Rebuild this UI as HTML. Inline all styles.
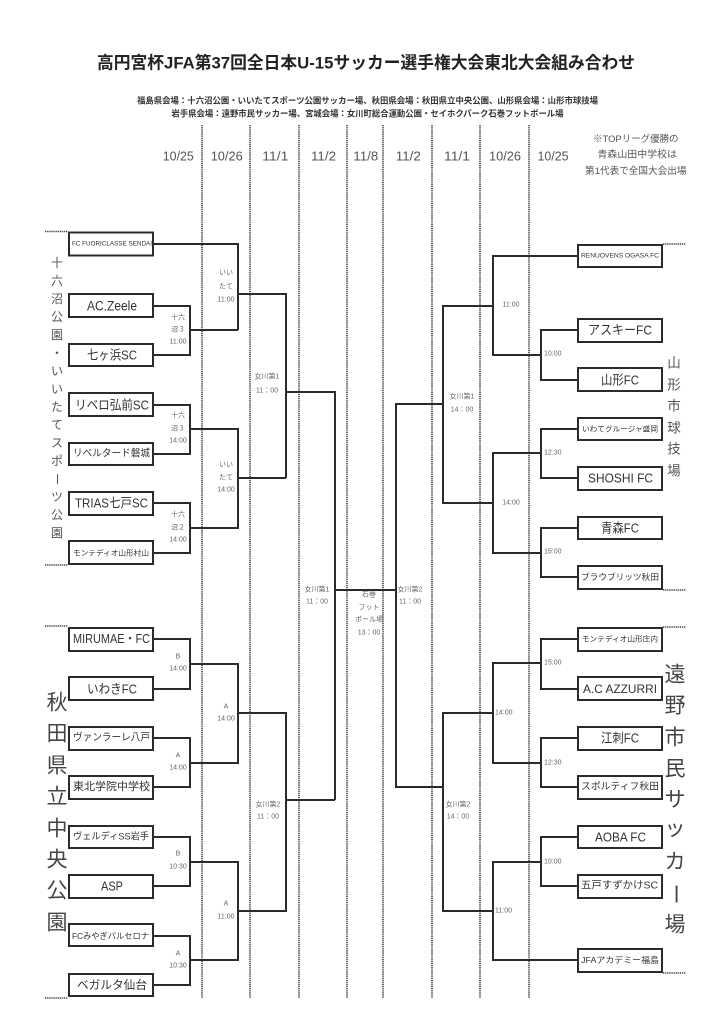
<!DOCTYPE html>
<html>
<head>
<meta charset="utf-8">
<style>
html,body{margin:0;padding:0;background:#fff;}
body{width:719px;height:1024px;overflow:hidden;}
svg{display:block;}
text{font-family:"Liberation Sans","Noto Sans CJK JP",sans-serif;}
.t{fill:#333;dominant-baseline:central;}
.lb{fill:#666;font-size:7px;text-anchor:middle;dominant-baseline:central;}
.ls{fill:#666;font-size:7px;dominant-baseline:central;}
.dt{fill:#555;font-size:13px;text-anchor:middle;dominant-baseline:central;}
.v{text-anchor:middle;dominant-baseline:central;}
</style>
</head>
<body>
<svg width="719" height="1024" viewBox="0 0 719 1024" xmlns="http://www.w3.org/2000/svg">
<rect width="719" height="1024" fill="#fff"/>

<!-- Title -->
<text x="97" y="63" font-size="17" font-weight="bold" fill="#222" dominant-baseline="central" textLength="538" lengthAdjust="spacingAndGlyphs">高円宮杯JFA第37回全日本U-15サッカー選手権大会東北大会組み合わせ</text>
<text x="137" y="100.5" font-size="8.5" font-weight="bold" fill="#333" dominant-baseline="central" textLength="461" lengthAdjust="spacingAndGlyphs">福島県会場：十六沼公園・いいたてスポーツ公園サッカー場、秋田県会場：秋田県立中央公園、山形県会場：山形市球技場</text>
<text x="171.5" y="113.3" font-size="8.5" font-weight="bold" fill="#333" dominant-baseline="central" textLength="392" lengthAdjust="spacingAndGlyphs">岩手県会場：遠野市民サッカー場、宮城会場：女川町総合運動公園・セイホクパーク石巻フットボール場</text>

<!-- note -->
<text x="593" y="139.3" font-size="9.5" fill="#555" dominant-baseline="central" textLength="85.5" lengthAdjust="spacingAndGlyphs">※TOPリーグ優勝の</text>
<text x="597.5" y="155" font-size="9.5" fill="#555" dominant-baseline="central" textLength="79.5" lengthAdjust="spacingAndGlyphs">青森山田中学校は</text>
<text x="585" y="171.7" font-size="9.5" fill="#555" dominant-baseline="central" textLength="101.5" lengthAdjust="spacingAndGlyphs">第1代表で全国大会出場</text>

<!-- dates -->
<g class="dt">
<text x="178.3" y="156" textLength="31" lengthAdjust="spacingAndGlyphs">10/25</text>
<text x="226.7" y="156" textLength="32" lengthAdjust="spacingAndGlyphs">10/26</text>
<text x="275.3" y="156" textLength="26" lengthAdjust="spacingAndGlyphs">11/1</text>
<text x="323.5" y="156" textLength="25" lengthAdjust="spacingAndGlyphs">11/2</text>
<text x="365.8" y="156" textLength="25" lengthAdjust="spacingAndGlyphs">11/8</text>
<text x="408.3" y="156" textLength="25" lengthAdjust="spacingAndGlyphs">11/2</text>
<text x="457" y="156" textLength="26" lengthAdjust="spacingAndGlyphs">11/1</text>
<text x="505" y="156" textLength="32" lengthAdjust="spacingAndGlyphs">10/26</text>
<text x="553" y="156" textLength="31" lengthAdjust="spacingAndGlyphs">10/25</text>
</g>

<!-- dividers -->
<g stroke="#444" stroke-width="1.6" stroke-dasharray="1.3 0.8" fill="none">
<line x1="202" y1="125" x2="202" y2="998"/>
<line x1="250" y1="125" x2="250" y2="998"/>
<line x1="299" y1="125" x2="299" y2="998"/>
<line x1="347" y1="125" x2="347" y2="998"/>
<line x1="383" y1="125" x2="383" y2="998"/>
<line x1="432" y1="125" x2="432" y2="998"/>
<line x1="480" y1="125" x2="480" y2="998"/>
<line x1="529" y1="125" x2="529" y2="998"/>
<!-- group markers -->
<line x1="45" y1="231.5" x2="68" y2="231.5"/>
<line x1="45" y1="565" x2="68" y2="565"/>
<line x1="45" y1="626" x2="68" y2="626"/>
<line x1="45" y1="998" x2="68" y2="998"/>
<line x1="663" y1="244" x2="686" y2="244"/>
<line x1="663" y1="590" x2="686" y2="590"/>
<line x1="663" y1="627" x2="686" y2="627"/>
<line x1="663" y1="973" x2="686" y2="973"/>
</g>

<!-- bracket lines -->
<g stroke="#2b2b2b" stroke-width="2" fill="none" stroke-linejoin="miter">
<!-- left top -->
<path d="M154 244 H238 V330"/>
<path d="M154 306 H190 V355 H154"/>
<path d="M190 330 H238"/>
<path d="M238 294 H286 V478"/>
<path d="M154 405 H190 V454 H154"/>
<path d="M190 429 H238 V528 H190"/>
<path d="M154 503 H190 V553 H154"/>
<path d="M238 478 H286"/>
<path d="M286 392 H335 V800"/>
<path d="M335 590 H396"/>
<!-- left bottom -->
<path d="M154 639 H190 V689 H154"/>
<path d="M190 664 H238 V763 H190"/>
<path d="M154 738 H190 V787 H154"/>
<path d="M238 713 H286 V911 H238"/>
<path d="M154 837 H190 V886 H154"/>
<path d="M190 862 H238 V960 H190"/>
<path d="M154 936 H190 V985 H154"/>
<path d="M286 800 H335"/>
<!-- right top -->
<path d="M577 256 H493 V355 H541"/>
<path d="M577 330 H541 V380 H577"/>
<path d="M493 306 H443 V503 H493"/>
<path d="M577 429 H541 V478 H577"/>
<path d="M541 453 H493 V553 H541"/>
<path d="M577 528 H541 V577 H577"/>
<path d="M443 404 H396 V787 H443"/>
<!-- right bottom -->
<path d="M577 639 H541 V689 H577"/>
<path d="M541 663 H493 V763 H541"/>
<path d="M577 738 H541 V787 H577"/>
<path d="M493 713 H443 V911 H493"/>
<path d="M577 837 H541 V886 H577"/>
<path d="M541 862 H493 V960 H577"/>
</g>

<!-- boxes -->
<g stroke="#2b2b2b" stroke-width="2" fill="#fff">
<rect x="69" y="232.5" width="84" height="23"/>
<rect x="69" y="294" width="84" height="23"/>
<rect x="69" y="344" width="84" height="22"/>
<rect x="69" y="393" width="84" height="23"/>
<rect x="69" y="443" width="84" height="22"/>
<rect x="69" y="492" width="84" height="23"/>
<rect x="69" y="541" width="84" height="23"/>
<rect x="69" y="628" width="84" height="23"/>
<rect x="69" y="677" width="84" height="23"/>
<rect x="69" y="727" width="84" height="23"/>
<rect x="69" y="776" width="84" height="23"/>
<rect x="69" y="826" width="84" height="22"/>
<rect x="69" y="875" width="84" height="23"/>
<rect x="69" y="924" width="84" height="22"/>
<rect x="69" y="974" width="84" height="22"/>

<rect x="578" y="245" width="84" height="22"/>
<rect x="578" y="319" width="84" height="23"/>
<rect x="578" y="368" width="84" height="23"/>
<rect x="578" y="418" width="84" height="22"/>
<rect x="578" y="467" width="84" height="23"/>
<rect x="578" y="517" width="84" height="22"/>
<rect x="578" y="566" width="84" height="23"/>
<rect x="578" y="628" width="84" height="23"/>
<rect x="578" y="677" width="84" height="23"/>
<rect x="578" y="727" width="84" height="23"/>
<rect x="578" y="776" width="84" height="23"/>
<rect x="578" y="826" width="84" height="22"/>
<rect x="578" y="875" width="84" height="23"/>
<rect x="578" y="949" width="84" height="23"/>
</g>

<!-- team names left -->
<g class="t">
<text x="72" y="244" font-size="6.5" textLength="80" lengthAdjust="spacingAndGlyphs">FC FUORICLASSE SENDAI</text>
<text x="87" y="306" font-size="13.5" textLength="50" lengthAdjust="spacingAndGlyphs">AC.Zeele</text>
<text x="87" y="355" font-size="13" textLength="50" lengthAdjust="spacingAndGlyphs">七ヶ浜SC</text>
<text x="75" y="405" font-size="13" textLength="74" lengthAdjust="spacingAndGlyphs">リベロ弘前SC</text>
<text x="73" y="454" font-size="10" textLength="77" lengthAdjust="spacingAndGlyphs">リベルタード磐城</text>
<text x="75" y="503" font-size="13" textLength="73" lengthAdjust="spacingAndGlyphs">TRIAS七戸SC</text>
<text x="73" y="553" font-size="7.5" textLength="76" lengthAdjust="spacingAndGlyphs">モンテディオ山形村山</text>
<text x="73" y="639" font-size="12.5" textLength="77" lengthAdjust="spacingAndGlyphs">MIRUMAE・FC</text>
<text x="87" y="689" font-size="13" textLength="50" lengthAdjust="spacingAndGlyphs">いわきFC</text>
<text x="73" y="738" font-size="10" textLength="77" lengthAdjust="spacingAndGlyphs">ヴァンラーレ八戸</text>
<text x="73" y="787" font-size="11" textLength="77" lengthAdjust="spacingAndGlyphs">東北学院中学校</text>
<text x="73" y="837" font-size="9.5" textLength="76" lengthAdjust="spacingAndGlyphs">ヴェルディSS岩手</text>
<text x="101" y="886" font-size="13" textLength="22" lengthAdjust="spacingAndGlyphs">ASP</text>
<text x="72" y="936" font-size="8.5" textLength="77" lengthAdjust="spacingAndGlyphs">FCみやぎバルセロナ</text>
<text x="77" y="985" font-size="12" textLength="70" lengthAdjust="spacingAndGlyphs">ベガルタ仙台</text>
</g>

<!-- team names right -->
<g class="t">
<text x="581" y="256" font-size="6.5" textLength="78" lengthAdjust="spacingAndGlyphs">RENUOVENS OGASA FC</text>
<text x="588" y="330" font-size="13" textLength="64" lengthAdjust="spacingAndGlyphs">アスキーFC</text>
<text x="601" y="380" font-size="13" textLength="38" lengthAdjust="spacingAndGlyphs">山形FC</text>
<text x="582" y="429" font-size="7.5" textLength="76" lengthAdjust="spacingAndGlyphs">いわてグルージャ盛岡</text>
<text x="588" y="478" font-size="13" textLength="65" lengthAdjust="spacingAndGlyphs">SHOSHI FC</text>
<text x="601" y="528" font-size="13" textLength="38" lengthAdjust="spacingAndGlyphs">青森FC</text>
<text x="581" y="577" font-size="8.5" textLength="78" lengthAdjust="spacingAndGlyphs">ブラウブリッツ秋田</text>
<text x="582" y="639" font-size="7.5" textLength="76" lengthAdjust="spacingAndGlyphs">モンテディオ山形庄内</text>
<text x="583" y="689" font-size="12" textLength="74" lengthAdjust="spacingAndGlyphs">A.C AZZURRI</text>
<text x="601" y="738" font-size="13" textLength="38" lengthAdjust="spacingAndGlyphs">江刺FC</text>
<text x="581" y="787" font-size="9.5" textLength="78" lengthAdjust="spacingAndGlyphs">スポルティフ秋田</text>
<text x="595" y="837" font-size="13" textLength="51" lengthAdjust="spacingAndGlyphs">AOBA FC</text>
<text x="581" y="886" font-size="10" textLength="77" lengthAdjust="spacingAndGlyphs">五戸すずかけSC</text>
<text x="581" y="960" font-size="8.5" textLength="78" lengthAdjust="spacingAndGlyphs">JFAアカデミー福島</text>
</g>

<!-- match labels left -->
<g class="lb">
<text x="178" y="318">十六</text><text x="178" y="330">沼３</text><text x="178" y="342">11:00</text>
<text x="178" y="416">十六</text><text x="178" y="429">沼３</text><text x="178" y="441">14:00</text>
<text x="178" y="515">十六</text><text x="178" y="528">沼２</text><text x="178" y="540">14:00</text>
<text x="178" y="657">B</text><text x="178" y="669">14:00</text>
<text x="178" y="756">A</text><text x="178" y="768">14:00</text>
<text x="178" y="854">B</text><text x="178" y="867">10:30</text>
<text x="178" y="954">A</text><text x="178" y="966">10:30</text>

<text x="226" y="273">いい</text><text x="226" y="287">たて</text><text x="226" y="300">11:00</text>
<text x="226" y="465">いい</text><text x="226" y="478">たて</text><text x="226" y="490">14:00</text>
<text x="226" y="707">A</text><text x="226" y="719">14:00</text>
<text x="226" y="904">A</text><text x="226" y="917">11:00</text>

<text x="267" y="377">女川第1</text><text x="267" y="391">11：00</text>
<text x="268" y="805">女川第2</text><text x="268" y="817">11：00</text>

<text x="317" y="590">女川第1</text><text x="317" y="602">11：00</text>
<text x="369" y="595">石巻</text><text x="369" y="608">フット</text><text x="369" y="620">ボール場</text><text x="369" y="633">13：00</text>
<text x="410" y="590">女川第2</text><text x="410" y="602">11：00</text>

<text x="462" y="397">女川第1</text><text x="462" y="410">14：00</text>
<text x="458" y="805">女川第2</text><text x="458" y="817">14：00</text>

<text x="511" y="305">11:00</text>
<text x="511" y="503">14:00</text>
</g>
<g class="ls">
<text x="544" y="354">10:00</text>
<text x="544" y="453">12:30</text>
<text x="544" y="552">15:00</text>
<text x="544" y="663">15:00</text>
<text x="544" y="763">12:30</text>
<text x="544" y="862">10:00</text>
<text x="495" y="713">14:00</text>
<text x="495" y="911">11:00</text>
</g>

<!-- venue vertical texts -->
<g class="v" fill="#555" font-size="12">
<text x="57" y="263">十</text>
<text x="57" y="281">六</text>
<text x="57" y="299">沼</text>
<text x="57" y="317">公</text>
<text x="57" y="335">園</text>
<text x="57" y="353">・</text>
<text x="57" y="371">い</text>
<text x="57" y="389">い</text>
<text x="57" y="407">た</text>
<text x="57" y="425">て</text>
<text x="57" y="443">ス</text>
<text x="57" y="461">ポ</text>
<text x="57" y="479" transform="rotate(90 57 479)">ー</text>
<text x="57" y="497">ツ</text>
<text x="57" y="515">公</text>
<text x="57" y="533">園</text>
</g>
<g class="v" fill="#444" font-size="21">
<text x="57" y="703">秋</text>
<text x="57" y="734">田</text>
<text x="57" y="766">県</text>
<text x="57" y="797">立</text>
<text x="57" y="829">中</text>
<text x="57" y="860">央</text>
<text x="57" y="891">公</text>
<text x="57" y="923">園</text>
</g>
<g class="v" fill="#555" font-size="13.5">
<text x="674" y="363">山</text>
<text x="674" y="385">形</text>
<text x="674" y="406">市</text>
<text x="674" y="428">球</text>
<text x="674" y="449">技</text>
<text x="674" y="471">場</text>
</g>
<g class="v" fill="#444" font-size="21">
<text x="675" y="675">遠</text>
<text x="675" y="706">野</text>
<text x="675" y="738">市</text>
<text x="675" y="769">民</text>
<text x="675" y="800">サ</text>
<text x="675" y="829">ッ</text>
<text x="675" y="862">カ</text>
<text x="675" y="894" transform="rotate(90 675 894)">ー</text>
<text x="675" y="925">場</text>
</g>
</svg>
</body>
</html>
